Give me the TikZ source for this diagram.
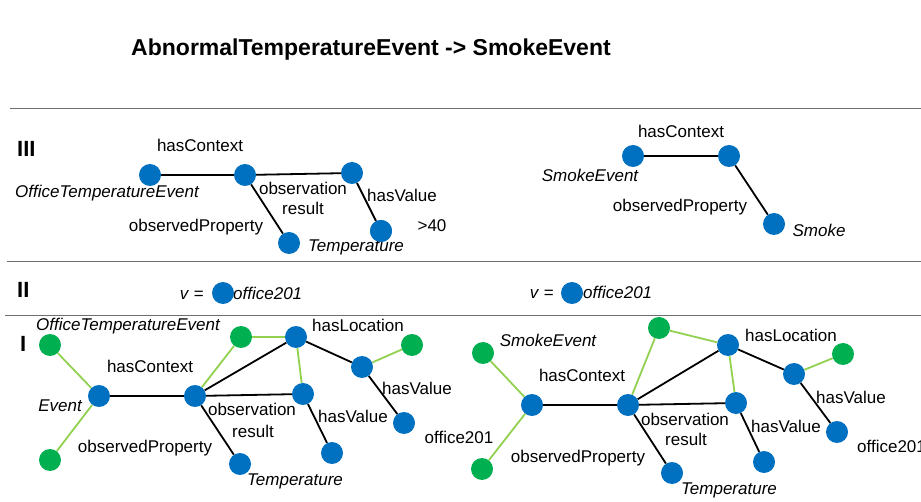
\documentclass[tikz,border=0pt]{standalone}
\usepackage{fontspec}
\setmainfont{Liberation Sans}
\definecolor{nblue}{RGB}{0,112,192}
\definecolor{ngreen}{RGB}{0,176,80}
\definecolor{lgreen}{RGB}{146,208,80}
\definecolor{rulegray}{RGB}{110,110,110}
\begin{document}
\begin{tikzpicture}[x=1pt,y=-1pt,
  bn/.style={circle,fill=nblue,draw=none,minimum size=22pt,inner sep=0pt},
  gn/.style={circle,fill=ngreen,draw=none,minimum size=22pt,inner sep=0pt},
  bl/.style={draw=black,line width=1.8pt},
  gl/.style={draw=lgreen,line width=1.8pt},
  lab/.style={inner sep=0pt,anchor=base,font=\fontsize{17}{19}\selectfont},
  ilab/.style={lab,font=\fontsize{17}{19}\selectfont\itshape},
  roman/.style={inner sep=0pt,anchor=base west,font=\fontsize{22}{24}\selectfont\bfseries},
  sep/.style={draw=rulegray,line width=1pt}]
\useasboundingbox (0,0) rectangle (921,502);

% title
\node[inner sep=0pt,anchor=base,font=\fontsize{23}{26}\selectfont\bfseries] (title) at (371,56) {AbnormalTemperatureEvent -> SmokeEvent};

% separators
\coordinate (s1a) at (10,109); \coordinate (s1b) at (921,109);
\coordinate (s2a) at (7,262);  \coordinate (s2b) at (921,262);
\coordinate (s3a) at (5,316);  \coordinate (s3b) at (921,316);
\draw[sep] (s1a) -- (s1b);
\draw[sep] (s2a) -- (s2b);
\draw[sep] (s3a) -- (s3b);

% section labels
\node[roman] (rIII) at (17,157) {III};
\node[roman] (rII) at (17,298) {II};
\node[roman] (rI) at (20,352) {I};

% ---------- Section III left
\node[bn] (a3) at (150,175) {};
\node[bn] (b3) at (245,175) {};
\node[bn] (c3) at (352,173) {};
\node[bn] (d3) at (289,243) {};
\node[bn] (e3) at (381,231) {};
\draw[bl] (a3) -- (b3);
\draw[bl] (b3) -- (c3);
\draw[bl] (b3) -- (d3);
\draw[bl] (c3) -- (e3);
\node[lab] (l3a) at (200,152) {hasContext};
\node[ilab] (l3b) at (107,198) {OfficeTemperatureEvent};
\node[lab] (l3c) at (303,195) {observation};
\node[lab] (l3d) at (303,215) {result};
\node[lab] (l3e) at (402,202) {hasValue};
\node[lab] (l3f) at (196,232) {observedProperty};
\node[ilab] (l3g) at (356,252) {Temperature};
\node[lab] (l3h) at (432,232) {>40};
% redraw node over text as in reference
\node[bn] (e3b) at (381,231) {};

% ---------- Section III right
\node[bn] (f3) at (633,156) {};
\node[bn] (g3) at (729,156) {};
\node[bn] (h3) at (774,224) {};
\draw[bl] (f3) -- (g3);
\draw[bl] (g3) -- (h3);
\node[lab] (r3a) at (681,138) {hasContext};
\node[ilab] (r3b) at (590,182) {SmokeEvent};
\node[lab] (r3c) at (680,212) {observedProperty};
\node[ilab] (r3d) at (819,237) {Smoke};

% ---------- Section II
\node[inner sep=0pt,anchor=base east,font=\fontsize{17}{19}\selectfont] (v2l) at (204,300) {\textit{v} =};
\node[inner sep=0pt,anchor=base west,font=\fontsize{17}{19}\selectfont\itshape] (o2l) at (233,300) {office201};
\node[bn] (n2l) at (223,293) {};
\node[inner sep=0pt,anchor=base east,font=\fontsize{17}{19}\selectfont] (v2r) at (554,299) {\textit{v} =};
\node[inner sep=0pt,anchor=base west,font=\fontsize{17}{19}\selectfont\itshape] (o2r) at (583,299) {office201};
\node[bn] (n2r) at (572,293) {};

% ---------- Section I left
\node[gn] (lg1) at (50,345) {};
\node[gn] (lg2) at (50,460) {};
\node[bn] (lev) at (99,396) {};
\node[bn] (lctx) at (195,396) {};
\node[gn] (lg3) at (241,337) {};
\node[bn] (lloc) at (296,337) {};
\node[bn] (lobs) at (303,394) {};
\node[bn] (ltemp) at (240,464) {};
\node[bn] (lval) at (332,453) {};
\node[bn] (llv) at (362,367) {};
\node[gn] (lg4) at (412,345) {};
\node[bn] (loff) at (404,423) {};
\draw[gl] (lg1) -- (lev);
\draw[gl] (lg2) -- (lev);
\draw[gl] (lg3) -- (lctx);
\draw[gl] (lg3) -- (lloc);
\draw[gl] (lloc) -- (lobs);
\draw[gl] (llv) -- (lg4);
\draw[bl] (lev) -- (lctx);
\draw[bl] (lctx) -- (lloc);
\draw[bl] (lctx) -- (lobs);
\draw[bl] (lctx) -- (ltemp);
\draw[bl] (lobs) -- (lval);
\draw[bl] (lloc) -- (llv);
\draw[bl] (llv) -- (loff);
\node[ilab] (t1a) at (128,331) {OfficeTemperatureEvent};
\node[lab] (t1b) at (150,373) {hasContext};
\node[ilab] (t1c) at (60,411) {Event};
\node[lab] (t1d) at (145,453) {observedProperty};
\node[lab] (t1e) at (252,416) {observation};
\node[lab] (t1f) at (253,437) {result};
\node[ilab] (t1g) at (295,485) {Temperature};
\node[lab] (t1h) at (353,423) {hasValue};
\node[lab] (t1i) at (358,332) {hasLocation};
\node[lab] (t1j) at (417,395) {hasValue};
\node[lab] (t1k) at (459,443) {office201};

% ---------- Section I right
\node[gn] (rg1) at (483,353) {};
\node[gn] (rg2) at (482,469) {};
\node[bn] (rev) at (532,405) {};
\node[bn] (rctx) at (628,405) {};
\node[gn] (rg3) at (659,328) {};
\node[bn] (rloc) at (728,345) {};
\node[bn] (robs) at (736,403) {};
\node[bn] (rtemp) at (672,473) {};
\node[bn] (rval) at (764,462) {};
\node[bn] (rlv) at (794,374) {};
\node[gn] (rg4) at (843,354) {};
\node[bn] (roff) at (837,432) {};
\draw[gl] (rg1) -- (rev);
\draw[gl] (rg2) -- (rev);
\draw[gl] (rg3) -- (rctx);
\draw[gl] (rg3) -- (rloc);
\draw[gl] (rloc) -- (robs);
\draw[gl] (rlv) -- (rg4);
\draw[bl] (rev) -- (rctx);
\draw[bl] (rctx) -- (rloc);
\draw[bl] (rctx) -- (robs);
\draw[bl] (rctx) -- (rtemp);
\draw[bl] (robs) -- (rval);
\draw[bl] (rloc) -- (rlv);
\draw[bl] (rlv) -- (roff);
\node[ilab] (t2a) at (548,347) {SmokeEvent};
\node[lab] (t2b) at (582,382) {hasContext};
\node[lab] (t2d) at (578,462) {observedProperty};
\node[lab] (t2e) at (685,425) {observation};
\node[lab] (t2f) at (686,445) {result};
\node[ilab] (t2g) at (729,494) {Temperature};
\node[lab] (t2h) at (786,432) {hasValue};
\node[lab] (t2i) at (791,342) {hasLocation};
\node[lab] (t2j) at (851,404) {hasValue};
\node[lab,anchor=base west] (t2k) at (857,452) {office201};
\end{tikzpicture}
\end{document}
